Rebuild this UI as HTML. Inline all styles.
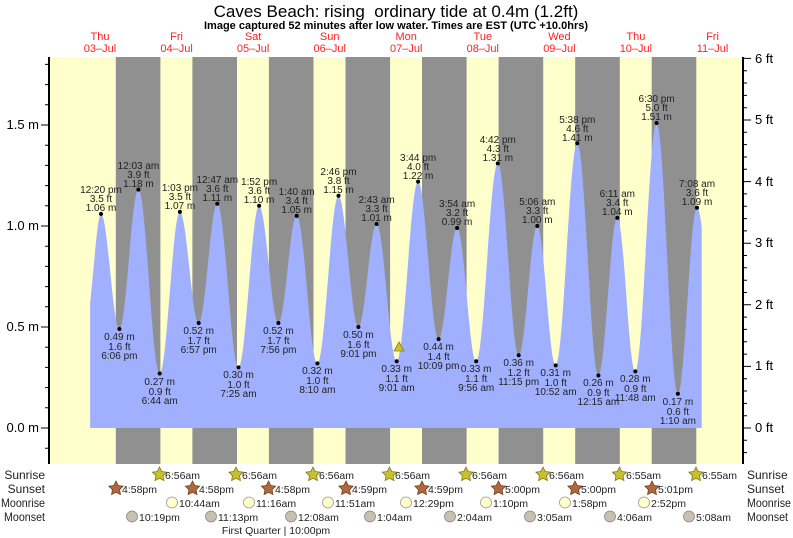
<!DOCTYPE html>
<html><head><meta charset="utf-8"><style>
body{margin:0;background:#fff;}
svg{display:block;font-family:"Liberation Sans",sans-serif;}
</style></head><body>
<svg width="793" height="538" xmlns="http://www.w3.org/2000/svg" xmlns:xlink="http://www.w3.org/1999/xlink">
<defs>
<polygon id="st" points="0,-7.5 2.2,-3.03 7.13,-2.32 3.57,1.16 4.41,6.07 0,3.75 -4.41,6.07 -3.57,1.16 -7.13,-2.32 -2.2,-3.03"/>
</defs>
<rect x="49" y="57" width="694" height="407" fill="#ffffcc"/>
<g fill="#909090">
<rect x="115.8" y="57" width="44.6" height="407"/>
<rect x="192.4" y="57" width="44.6" height="407"/>
<rect x="268.9" y="57" width="44.6" height="407"/>
<rect x="345.5" y="57" width="44.6" height="407"/>
<rect x="422" y="57" width="44.6" height="407"/>
<rect x="498.6" y="57" width="44.6" height="407"/>
<rect x="575.2" y="57" width="44.6" height="407"/>
<rect x="651.7" y="57" width="44.6" height="407"/>
</g>
<path fill="#a0b0ff" d="M90.1,428 L90.1,303 C94,268 97.5,213.9 101,213.9 C107.7,213.9 112.7,329 119.4,329 C126.3,329 131.5,189.6 138.4,189.6 C146.2,189.6 151.9,373.5 159.7,373.5 C167.1,373.5 172.5,211.9 179.9,211.9 C186.7,211.9 191.9,323 198.7,323 C205.5,323 210.5,203.8 217.3,203.8 C225,203.8 230.8,367.4 238.5,367.4 C246,367.4 251.6,205.8 259.1,205.8 C266.1,205.8 271.4,323 278.4,323 C285.1,323 290,215.9 296.7,215.9 C304.2,215.9 309.9,363.4 317.4,363.4 C325.1,363.4 330.8,195.7 338.5,195.7 C345.7,195.7 351.2,327 358.4,327 C365,327 370,224 376.6,224 C383.9,224 389.4,361.3 396.7,361.3 C404.5,361.3 410.3,181.6 418.1,181.6 C425.6,181.6 431.1,339.1 438.6,339.1 C445.3,339.1 450.4,228 457.1,228 C464.1,228 469.2,361.3 476.2,361.3 C484.1,361.3 489.9,163.4 497.8,163.4 C505.4,163.4 511.1,355.3 518.7,355.3 C525.5,355.3 530.5,226 537.3,226 C544,226 549,365.4 555.7,365.4 C563.6,365.4 569.4,143.2 577.3,143.2 C585,143.2 590.7,375.5 598.4,375.5 C605.3,375.5 610.4,217.9 617.3,217.9 C623.9,217.9 628.7,371.4 635.3,371.4 C643.1,371.4 648.8,123 656.6,123 C664.4,123 670.1,393.7 677.9,393.7 C684.9,393.7 690,207.8 697,207.8 C699,207.8 701,220 701.7,227.2 L701.7,428 Z"/>
<line x1="49" y1="57" x2="49" y2="464" stroke="#000" stroke-width="2"/>
<line x1="743" y1="57" x2="743" y2="464" stroke="#000" stroke-width="2"/>
<path stroke="#000" stroke-width="1" fill="none" d="M41,428H49 M45,448.2H49 M45,407.8H49 M45,387.6H49 M45,367.4H49 M45,347.2H49 M41,327H49 M45,306.8H49 M45,286.6H49 M45,266.4H49 M45,246.2H49 M41,226H49 M45,205.8H49 M45,185.6H49 M45,165.4H49 M45,145.2H49 M41,125H49 M45,104.8H49 M45,84.6H49 M45,64.4H49
M743,452.6H747 M743,440.3H747 M743,428H751 M743,415.7H747 M743,403.4H747 M743,391H747 M743,378.7H747 M743,366.4H751 M743,354.1H747 M743,341.8H747 M743,329.4H747 M743,317.1H747 M743,304.8H751 M743,292.5H747 M743,280.2H747 M743,267.8H747 M743,255.5H747 M743,243.2H751 M743,230.9H747 M743,218.6H747 M743,206.2H747 M743,193.9H747 M743,181.6H751 M743,169.3H747 M743,157H747 M743,144.6H747 M743,132.3H747 M743,120H751 M743,107.7H747 M743,95.4H747 M743,83H747 M743,70.7H747 M743,58.4H751"/>
<g font-size="13" fill="#000" text-anchor="end">
<text x="39" y="432">0.0 m</text><text x="39" y="331">0.5 m</text><text x="39" y="230">1.0 m</text><text x="39" y="129">1.5 m</text>
</g>
<g font-size="13" fill="#000">
<text x="755" y="432">0 ft</text><text x="755" y="370">1 ft</text><text x="755" y="309">2 ft</text><text x="755" y="247">3 ft</text><text x="755" y="186">4 ft</text><text x="755" y="124">5 ft</text><text x="755" y="63">6 ft</text>
</g>
<text x="396" y="17" font-size="17" text-anchor="middle" xml:space="preserve">Caves Beach: rising  ordinary tide at 0.4m (1.2ft)</text>
<text x="396" y="29" font-size="11" font-weight="bold" text-anchor="middle">Image captured 52 minutes after low water. Times are EST (UTC +10.0hrs)</text>
<g font-size="11" fill="#ff2020" text-anchor="middle">
<text x="100" y="40">Thu</text><text x="100" y="52">03–Jul</text>
<text x="176.6" y="40">Fri</text><text x="176.6" y="52">04–Jul</text>
<text x="253.1" y="40">Sat</text><text x="253.1" y="52">05–Jul</text>
<text x="329.7" y="40">Sun</text><text x="329.7" y="52">06–Jul</text>
<text x="406.2" y="40">Mon</text><text x="406.2" y="52">07–Jul</text>
<text x="482.8" y="40">Tue</text><text x="482.8" y="52">08–Jul</text>
<text x="559.4" y="40">Wed</text><text x="559.4" y="52">09–Jul</text>
<text x="635.9" y="40">Thu</text><text x="635.9" y="52">10–Jul</text>
<text x="712.5" y="40">Fri</text><text x="712.5" y="52">11–Jul</text>
</g>
<polygon points="399,342 394,351 404,351" fill="#c8c030" stroke="#888020" stroke-width="0.8"/>
<g fill="#000">
<circle cx="101" cy="213.9" r="2"/><circle cx="119.4" cy="329" r="2"/><circle cx="138.4" cy="189.6" r="2"/><circle cx="159.7" cy="373.5" r="2"/><circle cx="179.9" cy="211.9" r="2"/><circle cx="198.7" cy="323" r="2"/><circle cx="217.3" cy="203.8" r="2"/><circle cx="238.5" cy="367.4" r="2"/><circle cx="259.1" cy="205.8" r="2"/><circle cx="278.4" cy="323" r="2"/><circle cx="296.7" cy="215.9" r="2"/><circle cx="317.4" cy="363.4" r="2"/><circle cx="338.5" cy="195.7" r="2"/><circle cx="358.4" cy="327" r="2"/><circle cx="376.6" cy="224" r="2"/><circle cx="396.7" cy="361.3" r="2"/><circle cx="418.1" cy="181.6" r="2"/><circle cx="438.6" cy="339.1" r="2"/><circle cx="457.1" cy="228" r="2"/><circle cx="476.2" cy="361.3" r="2"/><circle cx="497.8" cy="163.4" r="2"/><circle cx="518.7" cy="355.3" r="2"/><circle cx="537.3" cy="226" r="2"/><circle cx="555.7" cy="365.4" r="2"/><circle cx="577.3" cy="143.2" r="2"/><circle cx="598.4" cy="375.5" r="2"/><circle cx="617.3" cy="217.9" r="2"/><circle cx="635.3" cy="371.4" r="2"/><circle cx="656.6" cy="123" r="2"/><circle cx="677.9" cy="393.7" r="2"/><circle cx="697" cy="207.8" r="2"/>
</g>
<g font-size="10" fill="#222" text-anchor="middle">
<text x="101" y="211">1.06 m</text><text x="101" y="202">3.5 ft</text><text x="101" y="193">12:20 pm</text>
<text x="119.4" y="340">0.49 m</text><text x="119.4" y="350">1.6 ft</text><text x="119.4" y="359">6:06 pm</text>
<text x="138.4" y="187">1.18 m</text><text x="138.4" y="178">3.9 ft</text><text x="138.4" y="169">12:03 am</text>
<text x="159.7" y="385">0.27 m</text><text x="159.7" y="395">0.9 ft</text><text x="159.7" y="404">6:44 am</text>
<text x="179.9" y="209">1.07 m</text><text x="179.9" y="200">3.5 ft</text><text x="179.9" y="191">1:03 pm</text>
<text x="198.7" y="334">0.52 m</text><text x="198.7" y="344">1.7 ft</text><text x="198.7" y="353">6:57 pm</text>
<text x="217.3" y="201">1.11 m</text><text x="217.3" y="192">3.6 ft</text><text x="217.3" y="183">12:47 am</text>
<text x="238.5" y="378">0.30 m</text><text x="238.5" y="388">1.0 ft</text><text x="238.5" y="397">7:25 am</text>
<text x="259.1" y="203">1.10 m</text><text x="259.1" y="194">3.6 ft</text><text x="259.1" y="185">1:52 pm</text>
<text x="278.4" y="334">0.52 m</text><text x="278.4" y="344">1.7 ft</text><text x="278.4" y="353">7:56 pm</text>
<text x="296.7" y="213">1.05 m</text><text x="296.7" y="204">3.4 ft</text><text x="296.7" y="195">1:40 am</text>
<text x="317.4" y="374">0.32 m</text><text x="317.4" y="384">1.0 ft</text><text x="317.4" y="393">8:10 am</text>
<text x="338.5" y="193">1.15 m</text><text x="338.5" y="184">3.8 ft</text><text x="338.5" y="175">2:46 pm</text>
<text x="358.4" y="338">0.50 m</text><text x="358.4" y="348">1.6 ft</text><text x="358.4" y="357">9:01 pm</text>
<text x="376.6" y="221">1.01 m</text><text x="376.6" y="212">3.3 ft</text><text x="376.6" y="203">2:43 am</text>
<text x="396.7" y="372">0.33 m</text><text x="396.7" y="382">1.1 ft</text><text x="396.7" y="391">9:01 am</text>
<text x="418.1" y="179">1.22 m</text><text x="418.1" y="170">4.0 ft</text><text x="418.1" y="161">3:44 pm</text>
<text x="438.6" y="350">0.44 m</text><text x="438.6" y="360">1.4 ft</text><text x="438.6" y="369">10:09 pm</text>
<text x="457.1" y="225">0.99 m</text><text x="457.1" y="216">3.2 ft</text><text x="457.1" y="207">3:54 am</text>
<text x="476.2" y="372">0.33 m</text><text x="476.2" y="382">1.1 ft</text><text x="476.2" y="391">9:56 am</text>
<text x="497.8" y="161">1.31 m</text><text x="497.8" y="152">4.3 ft</text><text x="497.8" y="143">4:42 pm</text>
<text x="518.7" y="366">0.36 m</text><text x="518.7" y="376">1.2 ft</text><text x="518.7" y="385">11:15 pm</text>
<text x="537.3" y="223">1.00 m</text><text x="537.3" y="214">3.3 ft</text><text x="537.3" y="205">5:06 am</text>
<text x="555.7" y="376">0.31 m</text><text x="555.7" y="386">1.0 ft</text><text x="555.7" y="395">10:52 am</text>
<text x="577.3" y="141">1.41 m</text><text x="577.3" y="132">4.6 ft</text><text x="577.3" y="123">5:38 pm</text>
<text x="598.4" y="386">0.26 m</text><text x="598.4" y="396">0.9 ft</text><text x="598.4" y="405">12:15 am</text>
<text x="617.3" y="215">1.04 m</text><text x="617.3" y="206">3.4 ft</text><text x="617.3" y="197">6:11 am</text>
<text x="635.3" y="382">0.28 m</text><text x="635.3" y="392">0.9 ft</text><text x="635.3" y="401">11:48 am</text>
<text x="656.6" y="120">1.51 m</text><text x="656.6" y="111">5.0 ft</text><text x="656.6" y="102">6:30 pm</text>
<text x="677.9" y="405">0.17 m</text><text x="677.9" y="415">0.6 ft</text><text x="677.9" y="424">1:10 am</text>
<text x="697" y="205">1.09 m</text><text x="697" y="196">3.6 ft</text><text x="697" y="187">7:08 am</text>
</g>
<g font-size="12" fill="#222">
<text x="45" y="479" text-anchor="end">Sunrise</text><text x="45" y="493" text-anchor="end">Sunset</text><text x="45" y="507" text-anchor="end" textLength="44" lengthAdjust="spacingAndGlyphs">Moonrise</text><text x="45" y="521" text-anchor="end" textLength="41" lengthAdjust="spacingAndGlyphs">Moonset</text>
<text x="747" y="479">Sunrise</text><text x="747" y="493">Sunset</text><text x="747" y="507" textLength="44" lengthAdjust="spacingAndGlyphs">Moonrise</text><text x="747" y="521" textLength="41" lengthAdjust="spacingAndGlyphs">Moonset</text>
</g>
<g fill="#c8c030" stroke="#807a20" stroke-width="0.8">
<use xlink:href="#st" x="159.5" y="474.5"/><use xlink:href="#st" x="236" y="474.5"/><use xlink:href="#st" x="313" y="474.5"/><use xlink:href="#st" x="389.5" y="474.5"/><use xlink:href="#st" x="466" y="474.5"/><use xlink:href="#st" x="543" y="474.5"/><use xlink:href="#st" x="619.5" y="474.5"/><use xlink:href="#st" x="696" y="474.5"/>
</g>
<g fill="#b06840" stroke="#704020" stroke-width="0.8">
<use xlink:href="#st" x="116" y="488.5"/><use xlink:href="#st" x="192.5" y="488.5"/><use xlink:href="#st" x="268.5" y="488.5"/><use xlink:href="#st" x="346" y="488.5"/><use xlink:href="#st" x="422" y="488.5"/><use xlink:href="#st" x="498.5" y="488.5"/><use xlink:href="#st" x="575" y="488.5"/><use xlink:href="#st" x="652" y="488.5"/>
</g>
<g fill="#ffffcc" stroke="#999" stroke-width="0.8">
<circle cx="172" cy="502.5" r="5.5"/><circle cx="249" cy="502.5" r="5.5"/><circle cx="328" cy="502.5" r="5.5"/><circle cx="406" cy="502.5" r="5.5"/><circle cx="486" cy="502.5" r="5.5"/><circle cx="565" cy="502.5" r="5.5"/><circle cx="644" cy="502.5" r="5.5"/>
</g>
<g fill="#c8c0b0" stroke="#888" stroke-width="0.8">
<circle cx="132" cy="516.5" r="5.5"/><circle cx="211" cy="516.5" r="5.5"/><circle cx="291" cy="516.5" r="5.5"/><circle cx="370" cy="516.5" r="5.5"/><circle cx="450" cy="516.5" r="5.5"/><circle cx="530" cy="516.5" r="5.5"/><circle cx="610" cy="516.5" r="5.5"/><circle cx="689" cy="516.5" r="5.5"/>
</g>
<g font-size="10.5" fill="#222">
<text x="165" y="479">6:56am</text><text x="242" y="479">6:56am</text><text x="319" y="479">6:56am</text><text x="395" y="479">6:56am</text><text x="472" y="479">6:56am</text><text x="549" y="479">6:56am</text><text x="626" y="479">6:55am</text><text x="702" y="479">6:55am</text>
<text x="122" y="493">4:58pm</text><text x="199" y="493">4:58pm</text><text x="275" y="493">4:58pm</text><text x="352" y="493">4:59pm</text><text x="428" y="493">4:59pm</text><text x="505" y="493">5:00pm</text><text x="581" y="493">5:00pm</text><text x="658" y="493">5:01pm</text>
<text x="179" y="507">10:44am</text><text x="256" y="507">11:16am</text><text x="335" y="507">11:51am</text><text x="413" y="507">12:29pm</text><text x="493" y="507">1:10pm</text><text x="572" y="507">1:58pm</text><text x="651" y="507">2:52pm</text>
<text x="139" y="521">10:19pm</text><text x="218" y="521">11:13pm</text><text x="298" y="521">12:08am</text><text x="377" y="521">1:04am</text><text x="457" y="521">2:04am</text><text x="537" y="521">3:05am</text><text x="617" y="521">4:06am</text><text x="696" y="521">5:08am</text>
<text x="276" y="534" text-anchor="middle">First Quarter | 10:00pm</text>
</g>
</svg>
</body></html>
